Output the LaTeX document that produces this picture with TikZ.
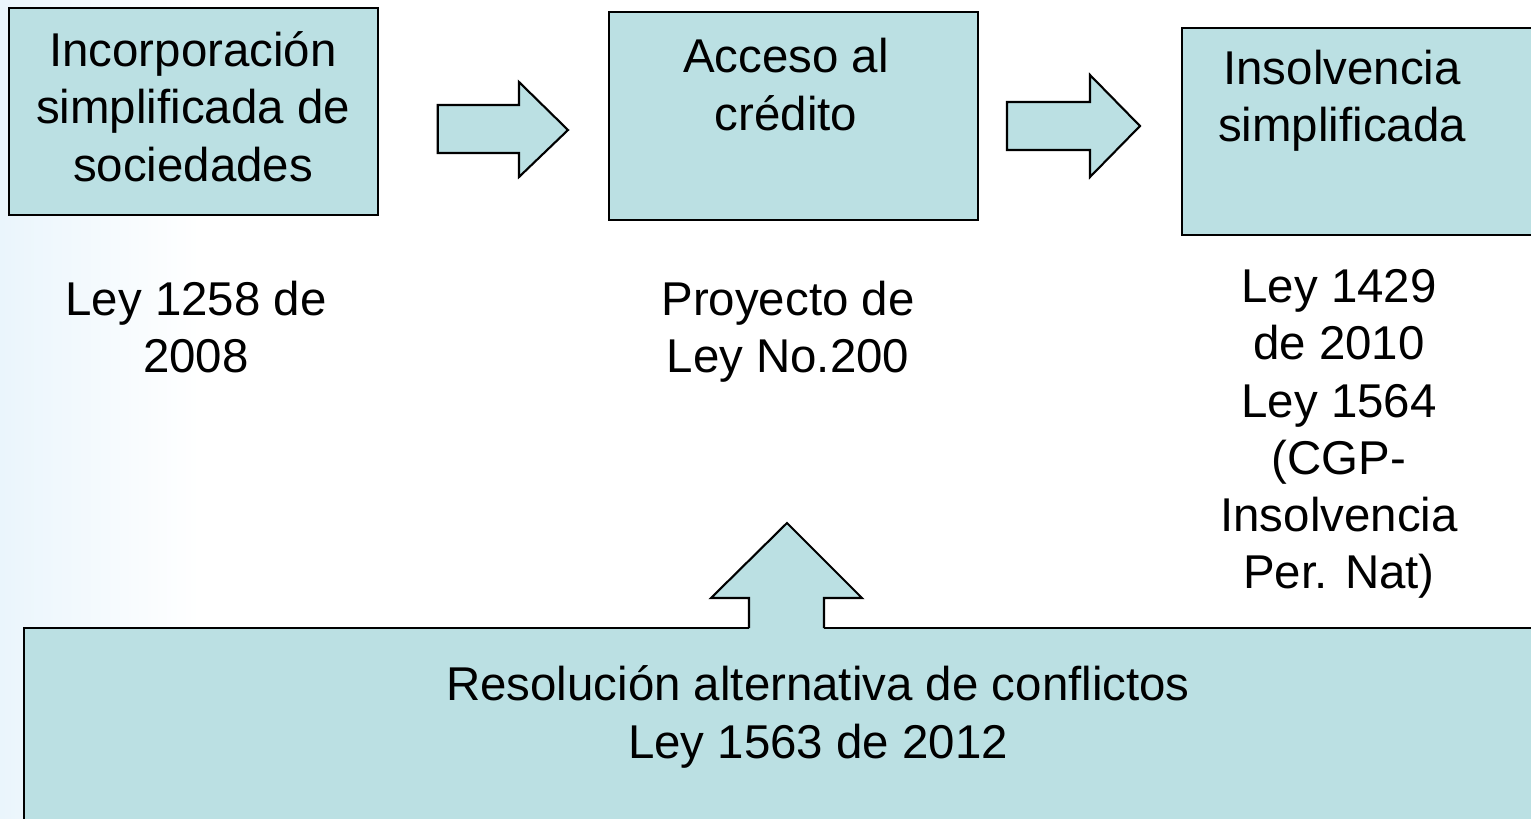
\documentclass[tikz,border=0pt]{standalone}
\usepackage{fontspec}
\setmainfont{Liberation Sans}
\usetikzlibrary{positioning,calc}
\definecolor{boxfill}{RGB}{187,224,227}
\definecolor{bgblue}{RGB}{234,245,252}

\begin{document}
\begin{tikzpicture}[x=0.02cm,y=-0.02cm,
  box/.style={draw,line width=1.2pt,fill=boxfill,inner sep=0pt},
  txt/.style={font=\fontsize{27}{32.6}\selectfont,align=center,inner sep=0pt},
  blockarrow/.style={draw,line width=1.2pt,fill=boxfill,line join=miter}]
  \useasboundingbox (0,0) rectangle (1531,818);
  \clip (0,0) rectangle (1531,818);
  \shade[left color=bgblue,right color=white] (0,0) rectangle (200,818);

  \node[box,minimum width=7.38cm,minimum height=4.14cm] (inc) at (193.5,111.5) {};
  \node[box,minimum width=7.38cm,minimum height=4.16cm] (acc) at (793.5,116) {};
  \node[box,line width=1.6pt,minimum width=7.56cm,minimum height=4.14cm] (ins) at (1371,131.5) {};
  \node[box,minimum width=30.72cm,minimum height=4.44cm] (res) at (792,739) {};

  \draw[blockarrow] (437.7,105) -- (519,105) -- (519,82) -- (568,130) -- (519,177) -- (519,153) -- (437.7,153) -- cycle;
  \draw[blockarrow] (1007,102) -- (1090,102) -- (1090,75) -- (1140,126) -- (1090,177) -- (1090,150) -- (1007,150) -- cycle;
  \fill[boxfill] (749,620) rectangle (824,640);
  \draw[line width=1.2pt,fill=boxfill,line join=miter] (749,628) -- (749,598) -- (711,598) -- (787,523) -- (862,598) -- (824,598) -- (824,628);

  \node[txt] (inctxt) at (193,106.5) {Incorporación\\simplificada de\\sociedades};
  \node[txt] (ley1258) at (196,327) {Ley 1258 de\\2008};
  \node[txt] (acctxt) at (786,84.5) {Acceso al\\crédito};
  \node[txt] (proy) at (788,331.5) {Proyecto de\\Ley No.200};
  \node[txt] (instxt) at (1342,100.5) {Insolvencia\\simplificada};
  \node[txt] (ley1429) at (1339,434) {Ley 1429\\de 2010\\Ley 1564\\(CGP-\\Insolvencia\\Per. Nat)};
  \node[txt] (restxt) at (818,717) {Resolución alternativa de conflictos\\Ley 1563 de 2012};
\end{tikzpicture}
\end{document}
